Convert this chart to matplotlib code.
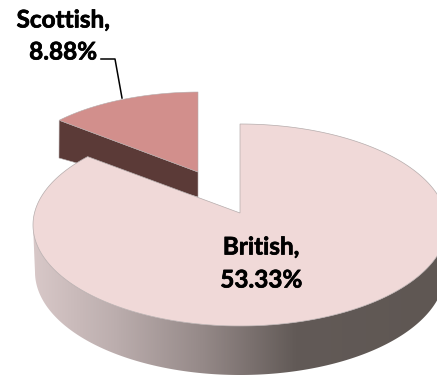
"""Exploded 3D-style pie of national identity shares."""

import numpy as np
import matplotlib
matplotlib.use('Agg')
import matplotlib.pyplot as plt
import matplotlib.patheffects as pe
from matplotlib.colors import LinearSegmentedColormap
from matplotlib.patches import Polygon

categories = ['British', 'Scottish']
shares = [53.33, 8.88]
percent_labels = ['53.33%', '8.88%']

plt.rcParams['font.family'] = ['Lato', 'DejaVu Sans']

TOP_COLOR = '#f0d9d8'
SLICE_COLOR = '#d28f8c'
SLICE_SIDE = '#5b3a37'
RIM_EDGE = '#b5acac'


def rim_points(apex, spread, centre, radii, t0, t1, n=200):
    # rays leave the apex at pie angle t (clockwise from north) and stop on the rim ellipse
    pts = []
    for t in np.radians(np.linspace(t0, t1, n)):
        dx, dy = np.sin(t) * spread[0], -np.cos(t) * spread[1]
        ox, oy = (apex[0] - centre[0]) / radii[0], (apex[1] - centre[1]) / radii[1]
        ux, uy = dx / radii[0], dy / radii[1]
        a = ux ** 2 + uy ** 2
        b = 2 * (ox * ux + oy * uy)
        c = ox ** 2 + oy ** 2 - 1
        s = (-b + np.sqrt(b ** 2 - 4 * a * c)) / (2 * a)
        pts.append((apex[0] + s * dx, apex[1] + s * dy))
    return np.array(pts)


def label(ax, x, y, text):
    # heavier than plain bold, thin stroke thickens the glyphs
    ax.text(x, y, text, ha='center', va='center', fontsize=17.5, fontweight='bold', zorder=7,
            path_effects=[pe.withStroke(linewidth=0.5, foreground='black')])


sweeps = 360 * np.array(shares) / np.sum(shares)

fig = plt.figure(figsize=(4.37, 3.76), dpi=100)
ax = fig.add_axes([0, 0, 1, 1])

# side wall of the big slice, shaded left to right
t = np.linspace(0, np.pi, 200)
wall = np.r_[np.c_[240 + 207 * np.cos(t), 225 + 101 * np.sin(t)],
             np.c_[240 + 205 * np.cos(t[::-1]), 272 + 103 * np.sin(t[::-1])]]
wall_patch = Polygon(wall, closed=True, facecolor='none', edgecolor='none', zorder=2)
ax.add_patch(wall_patch)
shade = LinearSegmentedColormap.from_list('wall', [(0, '#d8c8c8'), (0.2, '#bcaeae'), (0.42, '#958988'),
                                                   (0.65, '#625a57'), (1, '#5f5753')])
im = ax.imshow(np.linspace(0, 1, 256)[None, :], cmap=shade, extent=(33, 437, 376, 220), aspect='auto', zorder=2)
im.set_clip_path(wall_patch)

ax.set_xlim(0, 437)
ax.set_ylim(376, 0)
ax.axis('off')

# pulled-out slice: side face first, then its top
slice_apex = (198, 172)
slice_rim = rim_points(slice_apex, (180, 84), (200, 178), (190, 86), -sweeps[1], 0, n=80)
ax.add_patch(Polygon([slice_rim[0], slice_apex, (198, 197), (59, 158)], closed=True,
                     facecolor=SLICE_SIDE, edgecolor=RIM_EDGE, linewidth=0.4, zorder=3))
ax.add_patch(Polygon(np.r_[[slice_apex], slice_rim], closed=True, facecolor=SLICE_COLOR,
                     edgecolor=RIM_EDGE, linewidth=0.4, zorder=4))

# top of the big slice
apex = (240, 213)
big_rim = rim_points(apex, (205, 95), (240, 225), (207, 101), 0, sweeps[0], n=400)
ax.add_patch(Polygon(np.r_[[apex], big_rim], closed=True, facecolor=TOP_COLOR,
                     edgecolor=RIM_EDGE, linewidth=0.5, zorder=5))

# leader for the Scottish label
ax.plot([101, 115, 122], [59, 59, 98], color='black', linewidth=1.1, zorder=6)

label(ax, 63, 20, categories[1] + ',')
label(ax, 63, 52, percent_labels[1])
label(ax, 261, 247, categories[0] + ',')
label(ax, 261, 280, percent_labels[0])

fig.savefig('out.png', dpi=100)
plt.close(fig)
